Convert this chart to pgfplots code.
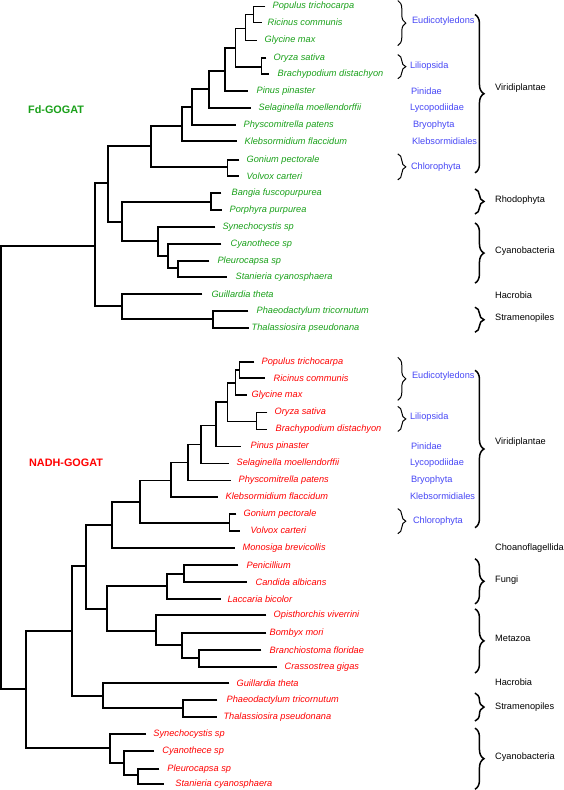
\documentclass[border=0pt]{standalone}
\usepackage{pgfplots}
\pgfplotsset{compat=1.18}
\usepackage{fontspec}
\setmainfont{Liberation Sans}
\usetikzlibrary{decorations.pathreplacing}
\definecolor{fdgreen}{RGB}{25,160,25}
\definecolor{clblue}{RGB}{70,70,245}
\definecolor{nred}{RGB}{255,0,0}
\tikzset{
  leaf/.style={anchor=west,inner sep=0pt,font=\fontsize{9.2}{10}\selectfont\itshape},
  cl/.style={anchor=west,inner sep=0pt,text=clblue,font=\fontsize{9.2}{10}\selectfont},
  gr/.style={anchor=west,inner sep=0pt,text=black,font=\fontsize{9.2}{10}\selectfont},
  br/.style={decorate,decoration={brace,amplitude=8pt},line width=1pt,black},
  bbr/.style={decorate,decoration={brace,amplitude=9pt},line width=1.5pt,black}}
\pgfplotsset{tree/.style={black,line width=1.8pt,line join=miter,mark=none}}
\begin{document}
\begin{tikzpicture}
\begin{axis}[width=564pt,height=790pt,scale only axis,
  xmin=0,xmax=564,ymin=0,ymax=790,y dir=reverse,hide axis,clip=false]
% ---------- Fd-GOGAT tree ----------
\addplot[tree] coordinates {(266,7)(254,7)(254,23)(263,23)};
\addplot[tree] coordinates {(254,15)(246,15)(246,41)(258,41)};
\addplot[tree] coordinates {(267,58)(262,58)(262,74)(270,74)};
\addplot[tree] coordinates {(246,29)(236,29)(236,67)(262,67)};
\addplot[tree] coordinates {(236,48)(226,48)(226,91)(249,91)};
\addplot[tree] coordinates {(226,71)(210,71)(210,108)(252,108)};
\addplot[tree] coordinates {(210,89)(193,89)(193,125)(237,125)};
\addplot[tree] coordinates {(193,107)(183,107)(183,141)(238,141)};
\addplot[tree] coordinates {(240,160)(228,160)(228,176)(240,176)};
\addplot[tree] coordinates {(183,126)(152,126)(152,167)(228,167)};
\addplot[tree] coordinates {(222,193)(212,193)(212,210)(223,210)};
\addplot[tree] coordinates {(210,261)(179,261)(179,277)(228,277)};
\addplot[tree] coordinates {(222,244)(169,244)(169,268)(179,268)};
\addplot[tree] coordinates {(216,227)(159,227)(159,256)(169,256)};
\addplot[tree] coordinates {(212,202)(123,202)(123,241)(159,241)};
\addplot[tree] coordinates {(152,146)(109,146)(109,222)(123,222)};
\addplot[tree] coordinates {(249,311)(214,311)(214,328)(250,328)};
\addplot[tree] coordinates {(203,294)(123,294)(123,319)(214,319)};
\addplot[tree] coordinates {(109,183)(96,183)(96,306)(123,306)};
% ---------- NADH-GOGAT tree ----------
\addplot[tree] coordinates {(255,362)(240,362)(240,378)(266,378)};
\addplot[tree] coordinates {(240,370)(236,370)(236,395)(248,395)};
\addplot[tree] coordinates {(268,412)(257,412)(257,429)(268,429)};
\addplot[tree] coordinates {(236,383)(228,383)(228,421)(257,421)};
\addplot[tree] coordinates {(228,402)(217,402)(217,446)(242,446)};
\addplot[tree] coordinates {(217,425)(202,425)(202,463)(230,463)};
\addplot[tree] coordinates {(202,444)(189,444)(189,480)(232,480)};
\addplot[tree] coordinates {(189,462)(172,462)(172,496)(219,496)};
\addplot[tree] coordinates {(237,513)(230,513)(230,530)(241,530)};
\addplot[tree] coordinates {(172,480)(141,480)(141,522)(230,522)};
\addplot[tree] coordinates {(141,501)(113,501)(113,547)(236,547)};
\addplot[tree] coordinates {(239,564)(185,564)(185,581)(248,581)};
\addplot[tree] coordinates {(185,573)(168,573)(168,598)(222,598)};
\addplot[tree] coordinates {(262,649)(200,649)(200,666)(277,666)};
\addplot[tree] coordinates {(267,632)(183,632)(183,657)(200,657)};
\addplot[tree] coordinates {(267,614)(157,614)(157,644)(183,644)};
\addplot[tree] coordinates {(168,585)(108,585)(108,630)(157,630)};
\addplot[tree] coordinates {(113,524)(87,524)(87,608)(108,608)};
\addplot[tree] coordinates {(218,699)(184,699)(184,716)(218,716)};
\addplot[tree] coordinates {(230,682)(104,682)(104,707)(184,707)};
\addplot[tree] coordinates {(87,565)(73,565)(73,695)(104,695)};
\addplot[tree] coordinates {(160,768)(139,768)(139,783)(165,783)};
\addplot[tree] coordinates {(155,750)(125,750)(125,774)(139,774)};
\addplot[tree] coordinates {(147,733)(111,733)(111,762)(125,762)};
\addplot[tree] coordinates {(73,630)(27,630)(27,747)(111,747)};
% ---------- root ----------
\addplot[tree] coordinates {(96,246)(2,246)(2,688)(27,688)};
% ---------- titles ----------
\node[text=fdgreen,font=\fontsize{10.8}{12}\selectfont\bfseries] at (axis cs:57,110) {Fd-GOGAT};
\node[text=nred,font=\fontsize{10.8}{12}\selectfont\bfseries] at (axis cs:67,462) {NADH-GOGAT};
% ---------- Fd leaf labels ----------
\begin{scope}[every node/.append style={text=fdgreen}]
\node[leaf] at (axis cs:273,7) {Populus trichocarpa};
\node[leaf] at (axis cs:268,23) {Ricinus communis};
\node[leaf] at (axis cs:265,41) {Glycine max};
\node[leaf] at (axis cs:274,58) {Oryza sativa};
\node[leaf] at (axis cs:278,74) {Brachypodium distachyon};
\node[leaf] at (axis cs:257,91) {Pinus pinaster};
\node[leaf] at (axis cs:259,108) {Selaginella moellendorffii};
\node[leaf] at (axis cs:244,125) {Physcomitrella patens};
\node[leaf] at (axis cs:245,141) {Klebsormidium flaccidum};
\node[leaf] at (axis cs:247,160) {Gonium pectorale};
\node[leaf] at (axis cs:247,176) {Volvox carteri};
\node[leaf] at (axis cs:232,193) {Bangia fuscopurpurea};
\node[leaf] at (axis cs:230,210) {Porphyra purpurea};
\node[leaf] at (axis cs:223,227) {Synechocystis sp};
\node[leaf] at (axis cs:231,244) {Cyanothece sp};
\node[leaf] at (axis cs:218,261) {Pleurocapsa sp};
\node[leaf] at (axis cs:236,277) {Stanieria cyanosphaera};
\node[leaf] at (axis cs:212,294) {Guillardia theta};
\node[leaf] at (axis cs:257,311) {Phaeodactylum tricornutum};
\node[leaf] at (axis cs:252,328) {Thalassiosira pseudonana};
\end{scope}
% ---------- NADH leaf labels ----------
\begin{scope}[every node/.append style={text=nred}]
\node[leaf] at (axis cs:262,362) {Populus trichocarpa};
\node[leaf] at (axis cs:274,378) {Ricinus communis};
\node[leaf] at (axis cs:252,395) {Glycine max};
\node[leaf] at (axis cs:275,412) {Oryza sativa};
\node[leaf] at (axis cs:276,429) {Brachypodium distachyon};
\node[leaf] at (axis cs:251,446) {Pinus pinaster};
\node[leaf] at (axis cs:237,463) {Selaginella moellendorffii};
\node[leaf] at (axis cs:239,480) {Physcomitrella patens};
\node[leaf] at (axis cs:226,496) {Klebsormidium flaccidum};
\node[leaf] at (axis cs:244,513) {Gonium pectorale};
\node[leaf] at (axis cs:251,530) {Volvox carteri};
\node[leaf] at (axis cs:243,547) {Monosiga brevicollis};
\node[leaf] at (axis cs:247,564) {Penicillium};
\node[leaf] at (axis cs:256,581) {Candida albicans};
\node[leaf] at (axis cs:228,598) {Laccaria bicolor};
\node[leaf] at (axis cs:274,614) {Opisthorchis viverrini};
\node[leaf] at (axis cs:270,632) {Bombyx mori};
\node[leaf] at (axis cs:270,649) {Branchiostoma floridae};
\node[leaf] at (axis cs:285,666) {Crassostrea gigas};
\node[leaf] at (axis cs:237,682) {Guillardia theta};
\node[leaf] at (axis cs:227,699) {Phaeodactylum tricornutum};
\node[leaf] at (axis cs:224,716) {Thalassiosira pseudonana};
\node[leaf] at (axis cs:154,733) {Synechocystis sp};
\node[leaf] at (axis cs:163,750) {Cyanothece sp};
\node[leaf] at (axis cs:168,768) {Pleurocapsa sp};
\node[leaf] at (axis cs:176,783) {Stanieria cyanosphaera};
\end{scope}
% ---------- Fd clade annotations ----------
\draw[br] (axis cs:398,1) -- (axis cs:398,46);
\node[cl] at (axis cs:412,22) {Eudicotyledons};
\draw[br] (axis cs:398,55) -- (axis cs:398,79);
\node[cl] at (axis cs:410,66) {Liliopsida};
\node[cl] at (axis cs:411,91) {Pinidae};
\node[cl] at (axis cs:410,108) {Lycopodiidae};
\node[cl] at (axis cs:413,125) {Bryophyta};
\node[cl] at (axis cs:412,141) {Klebsormidiales};
\draw[br] (axis cs:398,154) -- (axis cs:398,180);
\node[cl] at (axis cs:411,167) {Chlorophyta};
\draw[bbr] (axis cs:475,15) -- (axis cs:475,173);
\node[gr] at (axis cs:495,88) {Viridiplantae};
\draw[bbr] (axis cs:475,189) -- (axis cs:475,214);
\node[gr] at (axis cs:495,200) {Rhodophyta};
\draw[bbr] (axis cs:475,223) -- (axis cs:475,283);
\node[gr] at (axis cs:495,251) {Cyanobacteria};
\node[gr] at (axis cs:495,295) {Hacrobia};
\draw[bbr] (axis cs:475,307) -- (axis cs:475,332);
\node[gr] at (axis cs:495,318) {Stramenopiles};
% ---------- NADH clade annotations ----------
\draw[br] (axis cs:398,357) -- (axis cs:398,400);
\node[cl] at (axis cs:412,376) {Eudicotyledons};
\draw[br] (axis cs:398,406) -- (axis cs:398,431);
\node[cl] at (axis cs:410,417) {Liliopsida};
\node[cl] at (axis cs:411,446) {Pinidae};
\node[cl] at (axis cs:410,463) {Lycopodiidae};
\node[cl] at (axis cs:411,480) {Bryophyta};
\node[cl] at (axis cs:410,496) {Klebsormidiales};
\draw[br] (axis cs:398,508) -- (axis cs:398,533);
\node[cl] at (axis cs:413,520) {Chlorophyta};
\draw[bbr] (axis cs:475,370) -- (axis cs:475,527);
\node[gr] at (axis cs:495,442) {Viridiplantae};
\node[gr] at (axis cs:495,547) {Choanoflagellida};
\draw[bbr] (axis cs:475,558) -- (axis cs:475,603);
\node[gr] at (axis cs:495,579) {Fungi};
\draw[bbr] (axis cs:475,608) -- (axis cs:475,672);
\node[gr] at (axis cs:495,637) {Metazoa};
\node[gr] at (axis cs:495,681) {Hacrobia};
\draw[bbr] (axis cs:475,692) -- (axis cs:475,720);
\node[gr] at (axis cs:495,706) {Stramenopiles};
\draw[bbr] (axis cs:475,727) -- (axis cs:475,788);
\node[gr] at (axis cs:495,756) {Cyanobacteria};
\end{axis}
\end{tikzpicture}
\end{document}
